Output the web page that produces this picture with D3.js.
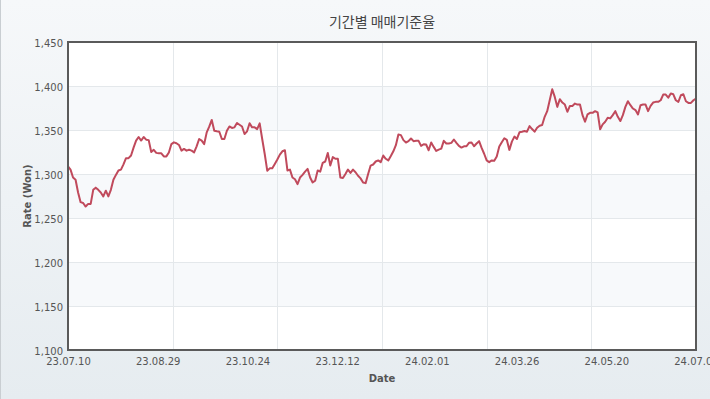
<!DOCTYPE html>
<html>
<head>
<meta charset="utf-8">
<script src="https://cdn.jsdelivr.net/npm/d3@7"></script>
<style>
  body { margin: 0; background: #fff; }
  #chart { width: 710px; height: 399px; overflow: hidden; }
  text { font-family: "DejaVu Sans", Verdana, sans-serif; }
</style>
</head>
<body>
<div id="chart"></div>
<script>
// chart data
var chartTitle = '기간별 매매기준율';
var xTitle = 'Date';
var yTitle = 'Rate (Won)';
var dateLabels = ['23.07.10', '23.08.29', '23.10.24', '23.12.12', '24.02.01', '24.03.26', '24.05.20', '24.07.09'];
var rateTicks = [1100, 1150, 1200, 1250, 1300, 1350, 1400, 1450];

// daily rates (23.07.10 -> 24.07.09)
var rates = [
  1308.7, 1305, 1296, 1293.5, 1279, 1268, 1267, 1263, 1266, 1266, 1282, 1284.5, 1282, 1279,
  1274.5, 1281, 1274.5, 1282, 1293.5, 1299, 1304, 1305, 1311, 1318, 1318, 1321, 1330, 1338,
  1342, 1338, 1342, 1339, 1338.5, 1325, 1327.5, 1324, 1323.5, 1323.5, 1320, 1320, 1324.5, 1334,

  1336, 1335, 1333, 1326.5, 1328.5, 1326.5, 1327.5, 1326.5, 1324.6, 1331.4, 1339.8, 1338, 1334,
  1347.3, 1353.8, 1361.4, 1349.2, 1348.5, 1348, 1339.8, 1339.8, 1349.2, 1354, 1352.3, 1353, 1358,
  1356, 1354, 1345.5, 1348.5, 1357.6, 1353, 1353, 1351, 1357.6, 1339.8, 1322.7, 1303.8, 1306.4,
  1306.4, 1311.4,

  1316.5, 1322, 1325.8, 1327, 1304, 1305, 1296, 1294, 1288.5, 1296, 1299, 1302.7, 1305.8, 1296,
  1290.4, 1292.3, 1304, 1302.7, 1312.7, 1314.2, 1323.8, 1309.6, 1319.2, 1317.3, 1317.3, 1296,
  1295.4, 1300, 1305, 1301.2, 1305, 1302, 1298, 1295, 1290.4, 1289.6, 1300, 1309.6, 1310.8,
  1314.2, 1315.4, 1313.5, 1321,

  1317.3, 1315.4, 1320.4, 1325.8, 1332.7, 1345, 1344.2, 1338.5, 1335.8, 1337.3, 1340.4, 1337.3,
  1337.7, 1337.7, 1331.9, 1333.8, 1333.5, 1327, 1335.8, 1330.8, 1326.2, 1327.7, 1328.8, 1337.7,
  1334.6, 1334.6, 1335.4, 1339.2, 1335.4, 1331.9, 1330, 1331.5, 1331.5, 1335.4, 1335.8, 1331.5,
  1334.6, 1337.3, 1329.6, 1323, 1315.4, 1313.5, 1315.4,

  1315, 1320, 1331.2, 1336.1, 1340.6, 1338.7, 1327.4, 1336.8, 1342.5, 1339.8, 1347.4, 1348.1,
  1348.9, 1348.1, 1354.5, 1351.1, 1348.1, 1352.6, 1354.9, 1355.6, 1365, 1371.4, 1383.8, 1396.2,
  1387.6, 1376.3, 1385, 1381.2, 1378.9, 1370.7, 1377.4, 1377.4, 1380, 1378.9, 1378.9, 1366.9,
  1359.4, 1367.7, 1369.5, 1369.5, 1371.4, 1369.9,

  1350.8, 1356.4, 1359.4, 1363.9, 1363.2, 1366.9, 1371.4, 1365, 1360.2, 1366.9, 1376.3, 1382.7,
  1378.2, 1374.4, 1372.6, 1367.7, 1378.2, 1378.9, 1378.9, 1371.4, 1377.4, 1381.2, 1382, 1382,
  1383.8, 1390.2, 1390.2, 1386.8, 1391.4, 1390.6, 1383.8, 1382, 1389.5, 1390.6, 1382.7, 1380.8,
  1380.8, 1383.8, 1385.7
];

var width = 710, height = 399;
var margin = {top: 42, right: 14, bottom: 49, left: 68};
var plotW = width - margin.left - margin.right,
    plotH = height - margin.top - margin.bottom;

var svg = d3.select('#chart')
  .append('svg')
  .attr('width', width)
  .attr('height', height);

// background gradient
var grad = svg.append('defs').append('linearGradient')
  .attr('id', 'bg')
  .attr('x1', 0).attr('y1', 0).attr('x2', 0).attr('y2', 1);
grad.append('stop').attr('offset', '0%').attr('stop-color', '#f6f8fa');
grad.append('stop').attr('offset', '100%').attr('stop-color', '#e6ecf0');

svg.append('rect')
  .attr('width', width).attr('height', height)
  .attr('fill', 'url(#bg)');
svg.append('line')
  .attr('x1', 0.5).attr('x2', 0.5).attr('y1', 0).attr('y2', height)
  .attr('stroke', '#c9ced2');

var last = rates.length - 1;
var x = d3.scaleLinear().domain([0, last]).range([margin.left, margin.left + plotW]);
var y = d3.scaleLinear().domain([rateTicks[0], rateTicks[rateTicks.length - 1]])
  .range([margin.top + plotH, margin.top]);

// plot area + alternating bands
svg.append('rect')
  .attr('x', margin.left).attr('y', margin.top)
  .attr('width', plotW).attr('height', plotH)
  .attr('fill', '#fff');

var bands = rateTicks.slice(0, -1).filter(function(d, i) { return i % 2 == 1; });
svg.selectAll('.band')
  .data(bands)
  .enter().append('rect')
  .attr('class', 'band')
  .attr('x', margin.left)
  .attr('width', plotW)
  .attr('y', function(d) { return y(d + 50); })
  .attr('height', function(d) { return y(d) - y(d + 50); })
  .attr('fill', '#f7f9fb');

// grid
svg.selectAll('.hgrid')
  .data(rateTicks.slice(1, -1))
  .enter().append('line')
  .attr('class', 'hgrid')
  .attr('x1', margin.left).attr('x2', margin.left + plotW)
  .attr('y1', function(d) { return Math.round(y(d)) + 0.5; })
  .attr('y2', function(d) { return Math.round(y(d)) + 0.5; })
  .attr('stroke', '#e4e8eb');

svg.selectAll('.vgrid')
  .data(d3.range(1, 6).map(function(k) { return last * k / 6; }))
  .enter().append('line')
  .attr('class', 'vgrid')
  .attr('y1', margin.top).attr('y2', margin.top + plotH)
  .attr('x1', function(d) { return Math.round(x(d)) + 0.5; })
  .attr('x2', function(d) { return Math.round(x(d)) + 0.5; })
  .attr('stroke', '#e4e8eb');

// the rate line
var line = d3.line()
  .x(function(d, i) { return x(i); })
  .y(function(d) { return y(d); });

svg.append('path')
  .datum(rates)
  .attr('d', line)
  .attr('fill', 'none')
  .attr('stroke', '#c04a5c')
  .attr('stroke-width', 2)
  .attr('stroke-linejoin', 'round');

// frame
svg.append('rect')
  .attr('x', margin.left).attr('y', margin.top)
  .attr('width', plotW).attr('height', plotH)
  .attr('fill', 'none')
  .attr('stroke', '#5a5a5a')
  .attr('stroke-width', 2);

// axes
var yAxis = svg.append('g')
  .attr('transform', 'translate(' + (margin.left - 1) + ',0)')
  .call(d3.axisLeft(y).tickValues(rateTicks).tickFormat(d3.format(',')).tickSize(0).tickPadding(4));

var xTickVals = dateLabels.map(function(d, i) { return last * i / (dateLabels.length - 1); });
var xAxis = svg.append('g')
  .attr('transform', 'translate(0,' + (margin.top + plotH + 1) + ')')
  .call(d3.axisBottom(x).tickValues(xTickVals)
    .tickFormat(function(d, i) { return dateLabels[i]; })
    .tickSize(0).tickPadding(7));

[yAxis, xAxis].forEach(function(g) {
  g.select('.domain').remove();
  g.selectAll('text')
    .attr('fill', '#555')
    .style('font-family', '"DejaVu Sans", Verdana, sans-serif')
    .style('font-size', '10px');
});
yAxis.selectAll('text').attr('dy', '0.42em');

// titles
svg.append('text')
  .attr('x', margin.left + plotW / 2)
  .attr('y', 27)
  .attr('text-anchor', 'middle')
  .attr('fill', '#444')
  .style('font-family', '"Noto Sans CJK KR", sans-serif')
  .style('font-size', '14px')
  .text(chartTitle);

svg.append('text')
  .attr('x', margin.left + plotW / 2)
  .attr('y', 382)
  .attr('text-anchor', 'middle')
  .attr('fill', '#555')
  .style('font-size', '10px')
  .style('font-weight', 'bold')
  .text(xTitle);

svg.append('text')
  .attr('transform', 'translate(31,' + (margin.top + plotH / 2) + ') rotate(-90)')
  .attr('text-anchor', 'middle')
  .attr('fill', '#555')
  .style('font-size', '10px')
  .style('font-weight', 'bold')
  .text(yTitle);
</script>
</body>
</html>
